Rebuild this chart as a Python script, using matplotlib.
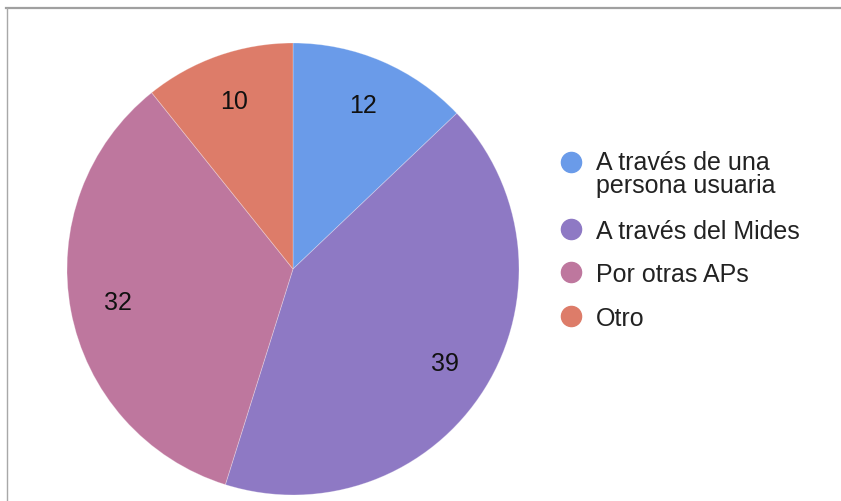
import matplotlib
matplotlib.use("Agg")
import matplotlib.pyplot as plt
from matplotlib.lines import Line2D

plt.rcParams['font.family'] = ['Liberation Sans', 'DejaVu Sans']

categories = ["A través de una\npersona usuaria", "A través del Mides", "Por otras APs", "Otro"]
values = [12, 39, 32, 10]
colors = ["#6a9be9", "#8e79c4", "#be779e", "#dd7c69"]

W, H = 841, 502
fig = plt.figure(figsize=(W / 100, H / 100), dpi=100)
fig.patch.set_facecolor("white")

def fx(px):
    return px / W

def fy(py):
    return 1 - py / H

# pie area: centre and radius in pixels
cx, cy, r = 293, 270, 226
ax = fig.add_axes([fx(cx - r), fy(cy + r), 2 * r / W, 2 * r / H])
total = sum(values)
wedges, texts, autotexts = ax.pie(
    values, colors=colors, startangle=90, counterclock=False, radius=1,
    autopct=lambda p: f"{round(p * total / 100)}", pctdistance=0.79,
    wedgeprops=dict(linewidth=0.6, edgecolor=(1, 1, 1, 0.3)),
    textprops=dict(fontsize=18, color="#111111"))
ax.set_xlim(-1, 1)
ax.set_ylim(-1, 1)
ax.set_aspect("equal")
ax.axis("off")

# legend drawn as markers plus text (baseline of the last line per row)
marker_y = [163, 230, 273, 317]
text_base = [193.5, 239, 282, 326]
for label, color, my, ty in zip(categories, colors, marker_y, text_base):
    fig.add_artist(Line2D([fx(571)], [fy(my)], marker="o", markersize=14.5,
                          color=color, linestyle="none", transform=fig.transFigure))
    fig.text(fx(596), fy(ty), label, fontsize=18, color="#222222",
             ha="left", va="baseline", linespacing=1.0)

# frame lines at top and left
fig.add_artist(Line2D([fx(6), 1], [fy(9), fy(9)], color="#a0a0a0", linewidth=1.6,
                      transform=fig.transFigure))
fig.add_artist(Line2D([fx(7), fx(7)], [fy(9), 0], color="#a8a8a8", linewidth=1.0,
                      transform=fig.transFigure))

fig.savefig("out.png", dpi=100)
